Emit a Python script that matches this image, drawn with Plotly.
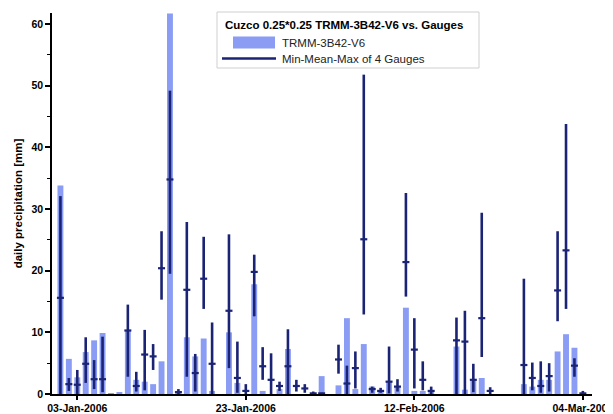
import pandas as pd
import numpy as np
import plotly.graph_objects as go

dates = pd.date_range("2006-01-01", periods=63, freq="D")

trmm = [33.8, 5.7, 2.7, 6.8, 8.7, 9.9, 0.1, 0.3, 10.4, 2.3,
        2.0, 1.6, 5.3, 61.7, 0.5, 9.2, 6.1, 9.0, 0.5, 0.0,
        10.0, 1.8, 0.0, 17.8, 0.5, 0.0, 0.8, 7.3, 0.0, 0.0,
        0.0, 2.9, 0.0, 1.4, 12.3, 0.8, 8.1, 1.2, 0.6, 2.0,
        1.3, 14.0, 0.5, 0.5, 0.3, 0.0, 0.0, 7.7, 0.7, 2.2,
        2.6, 0.0, 0.0, 0.0, 0.0, 1.6, 1.2, 2.3, 2.3, 6.9,
        9.7, 7.5, 0.0]

g_min = [0.0, 0.5, -0.8, 1.8, 0.8, 0.3, None, None, 2.8, 0.4,
         0.6, 3.9, 15.3, 19.5, 0.0, 2.8, 0.4, 13.8, 0.0, None,
         4.2, 0.2, -0.9, 12.6, 2.3, 0.0, 0.5, 0.0, 0.4, 0.2,
         0.0, 0.0, None, 3.3, 0.0, 0.9, 12.9, 0.2, 0.2, 0.1,
         0.4, 15.8, 0.9, 0.6, 0.0, None, None, 0.0, 0.0, 0.3,
         6.0, 0.0, None, None, None, 0.0, 0.6, 0.2, 0.4, 11.8,
         13.8, 2.8, -0.7]

g_mean = [15.6, 1.6, 1.5, 4.9, 2.4, 2.4, None, None, 10.3, 1.3,
          6.4, 6.1, 20.4, 34.8, 0.3, 16.9, 3.4, 18.7, 4.9, None,
          13.5, 2.6, 0.5, 19.8, 4.5, 2.3, 1.3, 4.5, 1.3, 0.9,
          0.1, 0.1, None, 5.6, 1.7, 4.2, 25.1, 0.8, 0.5, 2.0,
          1.2, 21.4, 7.2, 2.3, 0.5, None, None, 8.7, 8.5, 2.3,
          12.3, 0.5, None, None, None, 4.7, 2.6, 1.3, 2.9, 16.8,
          23.3, 4.6, 0.1]

g_max = [32.1, 2.6, 3.9, 9.2, 5.5, 9.3, None, None, 14.5, 3.6,
         10.4, 8.1, 26.4, 49.2, 0.8, 27.9, 6.5, 25.5, 11.6, None,
         25.9, 8.5, 1.6, 22.6, 7.6, 6.6, 2.0, 10.5, 2.3, 1.6,
         0.4, 0.2, None, 8.0, 4.6, 6.9, 51.8, 1.2, 1.0, 7.7,
         2.4, 32.6, 12.3, 5.3, 1.2, None, None, 12.4, 13.5, 4.9,
         29.4, 1.1, None, None, None, 18.7, 5.1, 5.3, 5.0, 26.4,
         43.8, 5.8, 0.5]

tick_dates = ["2006-01-03", "2006-01-23", "2006-02-12", "2006-03-04"]
tick_labels = ["03-Jan-2006", "23-Jan-2006", "12-Feb-2006", "04-Mar-2006"]

BAR = "#8a9cf4"
NAVY = "#1b2374"
FONT = "Liberation Sans"

def arr(v):
    return np.array([np.nan if x is None else x for x in v], dtype=float)

mn, me, mx = arr(g_min), arr(g_mean), arr(g_max)

fig = go.Figure()
fig.add_trace(go.Bar(x=dates, y=trmm, marker=dict(color=BAR, line=dict(width=0)),
                     name="TRMM-3B42-V6", showlegend=False))
fig.add_trace(go.Scatter(
    x=dates, y=me, mode="markers", name="Min-Mean-Max of 4 Gauges", showlegend=False,
    marker=dict(symbol="line-ew", size=5, line=dict(color=NAVY, width=2.2), color=NAVY),
    error_y=dict(type="data", symmetric=False, array=mx - me, arrayminus=me - mn,
                 width=0, thickness=2.6, color=NAVY),
))

# legend box (drawn manually to match the reference style); page pixel -> paper coords
W, H = 540.0, 381.0
def px(x):
    return (x - 52) / W
def py(y):
    return (394 - y) / H

shapes = [
    dict(type="rect", xref="paper", yref="paper", x0=px(217), x1=px(479), y0=py(68), y1=py(12),
         line=dict(color="#cfcfcf", width=1), fillcolor="white", layer="above"),
    dict(type="rect", xref="paper", yref="paper", x0=px(233), x1=px(275), y0=py(48.5), y1=py(36.5),
         line=dict(width=0), fillcolor=BAR, layer="above"),
    dict(type="line", xref="paper", yref="paper", x0=px(222), x1=px(276), y0=py(58.5), y1=py(58.5),
         line=dict(color=NAVY, width=2.5), layer="above"),
]
annotations = [
    dict(xref="paper", yref="paper", x=px(223), y=py(24.5), xanchor="left", yanchor="middle",
         text="<b>Cuzco 0.25*0.25 TRMM-3B42-V6 vs. Gauges</b>", showarrow=False,
         font=dict(family=FONT, size=11.5, color="black")),
    dict(xref="paper", yref="paper", x=px(280), y=py(42.5), xanchor="left", yanchor="middle",
         text="TRMM-3B42-V6", showarrow=False, font=dict(family=FONT, size=11.5, color="#222")),
    dict(xref="paper", yref="paper", x=px(280), y=py(58.5), xanchor="left", yanchor="middle",
         text="Min-Mean-Max of 4 Gauges", showarrow=False, font=dict(family=FONT, size=11.5, color="#222")),
]

# page body has an 8px margin, so figure margins are offset accordingly
fig.update_layout(
    width=613, height=414,
    margin=dict(l=44, r=29, t=5, b=28),
    paper_bgcolor="white", plot_bgcolor="white",
    bargap=0.3,
    showlegend=False,
    shapes=shapes, annotations=annotations,
    font=dict(family=FONT, size=11, color="black"),
)
fig.update_xaxes(
    type="date", range=["2005-12-31 00:00", "2006-03-05 02:00"],
    tickvals=tick_dates, ticktext=["<b>%s</b>" % t for t in tick_labels],
    ticklabeloverflow="allow", automargin=False,
    showline=True, linecolor="black", linewidth=1.5, ticks="outside", ticklen=4,
    tickcolor="black", tickwidth=1.5, showgrid=False, zeroline=False,
    tickfont=dict(family=FONT, size=10.5, color="black"),
)
fig.update_yaxes(
    range=[0, 61.8], tickvals=[0, 10, 20, 30, 40, 50, 60],
    ticktext=["<b>%d</b>" % v for v in [0, 10, 20, 30, 40, 50, 60]],
    automargin=False,
    showline=True, linecolor="black", linewidth=1.5, ticks="outside", ticklen=5,
    tickcolor="black", tickwidth=1.5, showgrid=False, zeroline=False,
    minor=dict(dtick=5, tick0=0, ticks="outside", ticklen=3, tickcolor="black", tickwidth=1.2),
    tickfont=dict(family=FONT, size=10.5, color="black"),
    title=dict(text="<b>daily precipitation [mm]</b>", font=dict(family=FONT, size=11.5, color="black"),
               standoff=6),
)

fig.write_html("out.html")
